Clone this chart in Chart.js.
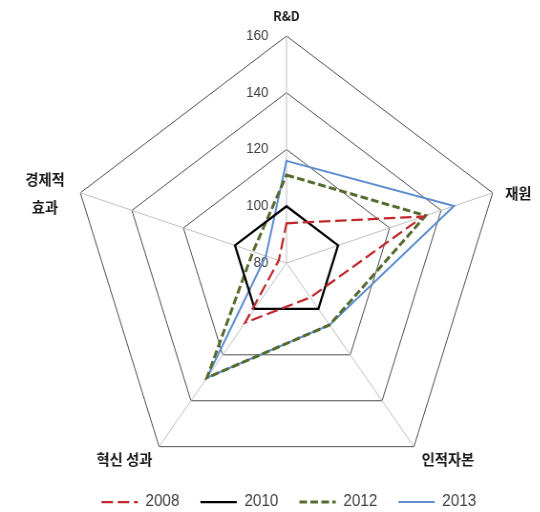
<!DOCTYPE html>
<html>
<head>
<meta charset="utf-8">
<script src="https://cdn.jsdelivr.net/npm/chart.js@4.4.0/dist/chart.umd.min.js"></script>
<style>
  html, body { margin: 0; padding: 0; background: #fff; overflow: hidden; }
  /* canvas is drawn a little wider and squeezed to 540px */
  #wrap { width: 565px; height: 512px; transform: scale(0.955, 1); transform-origin: 0 0; }
  #radar { display: block; }
</style>
</head>
<body>
<div id="wrap"><canvas id="radar" width="565" height="512"></canvas></div>
<script>
// Axis names and yearly index values (2010 = 100)
const axisLabels = ['R&D', '재원', '인적자본', '혁신 성과', ['경제적', '효과']];
const years = ['2008', '2010', '2012', '2013'];
const values2008 = [94, 133, 95, 106, 83];
const values2010 = [100, 100, 100, 100, 100];
const values2012 = [111, 134, 107, 130, 93];
const values2013 = [116, 145, 107, 130, 88];
const tickMin = 80;
const tickMax = 160;
const tickStep = 20;

// Where each axis name sits relative to its outer corner
const labelPlacement = [
    { dx: 0, dy: -20, align: 'center', size: 13 },
    { dx: 13, dy: 0, align: 'left', size: 15 },
    { dx: 8, dy: 13, align: 'left', size: 15 },
    { dx: -7, dy: 13, align: 'right', size: 15 },
    { dx: -37, dy: 0, align: 'center', size: 15 }
];

// Tick numbers to the left of the top spoke
const tickLabelPlugin = {
    id: 'tickLabels',
    beforeDatasetsDraw(chart) {
        const scale = chart.scales.r;
        const ctx = chart.ctx;
        ctx.save();
        ctx.font = '14px "Liberation Sans"';
        ctx.fillStyle = '#404040';
        ctx.textAlign = 'right';
        ctx.textBaseline = 'middle';
        scale.ticks.forEach(t => {
            const y = scale.yCenter - scale.getDistanceFromCenterForValue(t.value);
            ctx.fillText(String(t.value), scale.xCenter - 19, y);
        });
        ctx.restore();
    }
};

// Axis names around the outer ring
const axisNamePlugin = {
    id: 'axisNames',
    afterDraw(chart) {
        const scale = chart.scales.r;
        const ctx = chart.ctx;
        ctx.save();
        ctx.fillStyle = '#1a1a1a';
        ctx.textBaseline = 'middle';
        axisLabels.forEach((label, i) => {
            const p = scale.getPointPosition(i, scale.drawingArea);
            const place = labelPlacement[i];
            ctx.font = 'bold ' + place.size + 'px "Noto Sans CJK KR"';
            ctx.textAlign = place.align;
            const lines = Array.isArray(label) ? label : [label];
            const lineGap = 28;
            lines.forEach((line, k) => {
                const y = p.y + place.dy + (k - (lines.length - 1) / 2) * lineGap;
                ctx.fillText(line, p.x + place.dx, y);
            });
        });
        ctx.restore();
    }
};

new Chart(document.getElementById('radar'), {
    type: 'radar',
    data: {
        labels: axisLabels,
        datasets: [{
            label: years[0],
            data: values2008,
            borderColor: '#c0282d',
            borderWidth: 2.25,
            borderDash: [12, 5]
        }, {
            label: years[1],
            data: values2010,
            borderColor: '#000000',
            borderWidth: 2.25
        }, {
            label: years[2],
            data: values2012,
            borderColor: '#566b2f',
            borderWidth: 3,
            borderDash: [8, 3.5]
        }, {
            label: years[3],
            data: values2013,
            borderColor: '#5b8dcf',
            borderWidth: 2
        }]
    },
    options: {
        responsive: false,
        animation: false,
        layout: { padding: { left: 40, bottom: -8 } },
        elements: {
            line: { fill: false, tension: 0 },
            point: { radius: 0, hitRadius: 0, hoverRadius: 0 }
        },
        datasets: { radar: { clip: false } },
        scales: {
            r: {
                min: tickMin,
                max: tickMax,
                ticks: { stepSize: tickStep, display: false },
                pointLabels: { display: false },
                grid: { color: '#4d4d4d', lineWidth: 1 },
                angleLines: { color: '#bfbfbf', lineWidth: 1 },
                afterFit(scale) {
                    scale.xCenter = 300;
                    scale.yCenter = 263;
                    scale.drawingArea = 227;
                }
            }
        },
        plugins: {
            tooltip: { enabled: false },
            legend: {
                position: 'bottom',
                labels: {
                    usePointStyle: true,
                    pointStyle: 'line',
                    pointStyleWidth: 38,
                    padding: 22,
                    color: '#404040',
                    font: { family: 'Liberation Sans', size: 16 },
                    // legend swatches keep each series' dash pattern
                    generateLabels(chart) {
                        const items = Chart.defaults.plugins.legend.labels.generateLabels(chart);
                        items.forEach(item => {
                            const ds = chart.data.datasets[item.datasetIndex];
                            item.lineDash = ds.borderDash || [];
                            item.strokeStyle = ds.borderColor;
                            item.lineWidth = ds.borderWidth;
                        });
                        return items;
                    }
                }
            }
        }
    },
    plugins: [tickLabelPlugin, axisNamePlugin]
});
</script>
</body>
</html>
